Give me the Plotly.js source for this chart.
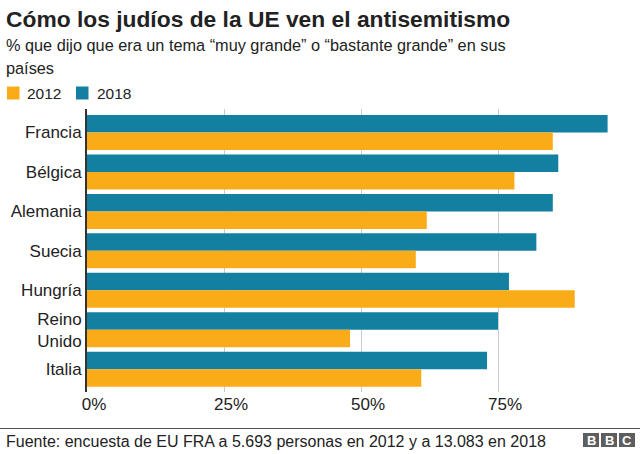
<!DOCTYPE html>
<html>
<head>
<meta charset="utf-8">
<script src="https://cdn.plot.ly/plotly-3.0.1.min.js"></script>
<style>
html,body{margin:0;padding:0;background:#fff;}
#chart{width:640px;height:454px;}
</style>
</head>
<body>
<div id="chart"></div>
<script>
// ---- data ----
const countries = ["Francia", "Bélgica", "Alemania", "Suecia", "Hungría", "Reino<br>Unido", "Italia"];
const values2018 = [95, 86, 85, 82, 77, 75, 73];
const values2012 = [85, 78, 62, 60, 89, 48, 61];
const seriesNames = ["2012", "2018"];
const tickVals = [0, 25, 50, 75];
const tickText = ["0%", "25%", "50%", "75%"];

const titleText = "Cómo los judíos de la UE ven el antisemitismo";
const subtitle1 = "% que dijo que era un tema “muy grande” o “bastante grande” en sus";
const subtitle2 = "países";
const sourceText = "Fuente: encuesta de EU FRA a 5.693 personas en 2012 y a 13.083 en 2018";

// ---- layout geometry ----
const W = 640, H = 454;
const M = {l: 87, r: 5, t: 109, b: 62};
const PW = W - M.l - M.r, PH = H - M.t - M.b;
const px = x => (x - M.l) / PW;
const py = y => (H - M.b - y) / PH;

const C2018 = "#1380A1", C2012 = "#FAAB18";
const FONT = "Liberation Sans, Arial, Helvetica, sans-serif";

const traces = [
  {type: "bar", orientation: "h", name: seriesNames[1], y: countries, x: values2018,
   marker: {color: C2018, line: {width: 0}}, hoverinfo: "x"},
  {type: "bar", orientation: "h", name: seriesNames[0], y: countries, x: values2012,
   marker: {color: C2012, line: {width: 0}}, hoverinfo: "x"}
];

function txt(text, x, y, size, opts) {
  return Object.assign({text: text, xref: "paper", yref: "paper", x: px(x), y: py(y),
    xanchor: "left", yanchor: "middle", showarrow: false,
    font: {family: FONT, size: size, color: "#222222"}}, opts || {});
}
function rect(x0, y0, x1, y1, color) {
  return {type: "rect", xref: "paper", yref: "paper", x0: px(x0), x1: px(x1), y0: py(y1), y1: py(y0),
    fillcolor: color, line: {width: 0}, layer: "above"};
}

const annotations = [
  txt(titleText, 4, 19, 22.8, {font: {family: FONT, size: 22.8, color: "#222222", weight: "bold"}}),
  txt(subtitle1, 4, 45, 16.3),
  txt(subtitle2, 4, 68, 16.3),
  txt(seriesNames[0], 25, 93.5, 15.5),
  txt(seriesNames[1], 95, 93.5, 15.5),
  txt(sourceText, 4, 441.5, 16)
];
// BBC logo
const logoX = [583, 601, 619];
const logoL = ["B", "B", "C"];
const shapes = [
  rect(7, 86.5, 19.5, 99.5, C2012),
  rect(76, 86.5, 88.5, 99.5, C2018),
  {type: "line", xref: "paper", yref: "paper", x0: px(0), x1: px(640), y0: py(428.5), y1: py(428.5),
   line: {color: "#555555", width: 1}}
];
logoX.forEach((x, i) => {
  shapes.push(rect(x, 433, x + 16, 447, "#5e5e5e"));
  annotations.push({text: logoL[i], xref: "paper", yref: "paper", x: px(x + 8), y: py(440),
    xanchor: "center", yanchor: "middle", showarrow: false,
    font: {family: FONT, size: 13, color: "#ffffff", weight: "bold"}});
});

const layout = {
  width: W, height: H,
  margin: M,
  paper_bgcolor: "#ffffff", plot_bgcolor: "#ffffff",
  showlegend: false,
  barmode: "group", bargap: 0.113, bargroupgap: 0,
  font: {family: FONT, color: "#222222"},
  xaxis: {range: [0, 100], tickvals: tickVals, ticktext: tickText,
    showgrid: true, gridcolor: "#cbcbcb", gridwidth: 1, zeroline: false,
    ticks: "", ticklabelshift: 7, tickfont: {family: FONT, size: 17, color: "#222222"},
    showline: false, fixedrange: true},
  yaxis: {type: "category", range: [6.578, -0.596], showgrid: false, zeroline: false,
    showline: true, linecolor: "#333333", linewidth: 2, ticks: "",
    tickfont: {family: FONT, size: 17, color: "#222222"}, fixedrange: true},
  annotations: annotations,
  shapes: shapes
};

Plotly.newPlot("chart", traces, layout, {displayModeBar: false, staticPlot: true});
</script>
</body>
</html>
